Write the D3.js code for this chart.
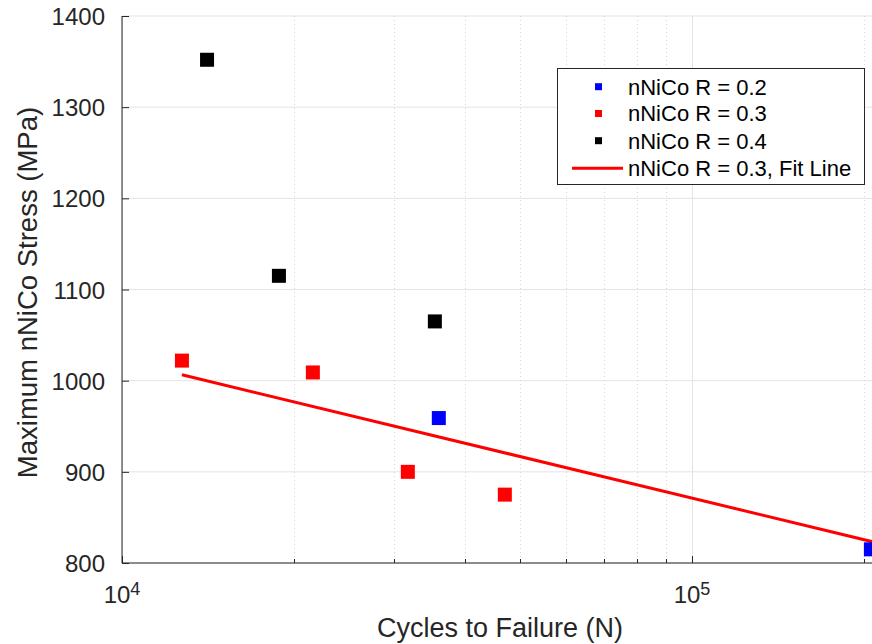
<!DOCTYPE html>
<html><head><meta charset="utf-8">
<script src="https://cdn.jsdelivr.net/npm/d3@7"></script>
<style>body{margin:0;background:#fff;} svg{display:block;font-family:"Liberation Sans",Arial,sans-serif;}</style>
</head><body>
<svg id="c" width="872" height="644"></svg>
<script>
const seriesNames = ["nNiCo R = 0.2", "nNiCo R = 0.3", "nNiCo R = 0.4"];
const seriesColors = ["#0000ff", "#ff0000", "#000000"];
const r02Cycles = [35960, 206000];
const r02Stress = [959, 815];
const r03Cycles = [12740, 21620, 31730, 46950];
const r03Stress = [1022, 1009, 900, 875];
const r04Cycles = [14100, 18850, 35390];
const r04Stress = [1352, 1115, 1065];
const fitName = "nNiCo R = 0.3, Fit Line";
const fitCycles = [12740, 210000];
const fitStress = [1006.4, 822.5];
const yTicks = [800, 900, 1000, 1100, 1200, 1300, 1400];
const xMajor = [1e4, 1e5];
const xMinor = [2e4,3e4,4e4,5e4,6e4,7e4,8e4,9e4,2e5];

const svg = d3.select("#c");
const L = 122, T = 16, B = 563, R = 878;
const x = d3.scaleLog().domain([1e4, 2.12e5]).range([L, R]);
const y = d3.scaleLinear().domain([800, 1400]).range([B, T]);
const axisCol = "#262626";

// grid
const g = svg.append("g");
g.selectAll(".hg").data(yTicks).enter().append("line")
  .attr("x1", L).attr("x2", R).attr("y1", d => y(d)).attr("y2", d => y(d))
  .attr("stroke", "#e3e3e3").attr("stroke-width", 1);
g.selectAll(".vm").data(xMinor).enter().append("line")
  .attr("x1", d => Math.round(x(d)) + 0.5).attr("x2", d => Math.round(x(d)) + 0.5).attr("y1", T).attr("y2", B)
  .attr("stroke", "#d6d6d6").attr("stroke-width", 1).attr("stroke-dasharray", "1,3");
g.selectAll(".vg").data(xMajor).enter().append("line")
  .attr("x1", d => Math.round(x(d)) + 0.5).attr("x2", d => Math.round(x(d)) + 0.5).attr("y1", T).attr("y2", B)
  .attr("stroke", "#e3e3e3").attr("stroke-width", 1);

// axes
const yAxis = d3.axisLeft(y).tickValues(yTicks).tickSize(-7).tickPadding(17).tickFormat(d3.format("d"));
const ya = svg.append("g").attr("transform", `translate(${L},0)`).call(yAxis);
ya.select(".domain").attr("stroke", axisCol).attr("d", `M0,${B}V${T}`);
ya.selectAll(".tick line").attr("stroke", axisCol);
ya.selectAll("text").attr("fill", axisCol).style("font-size", "24px").attr("dy", "0.36em");

const xa = svg.append("g").attr("transform", `translate(0,${B})`);
xa.append("line").attr("x1", L).attr("x2", R).attr("y1", 0).attr("y2", 0).attr("stroke", axisCol);
xa.selectAll(".mt").data(xMinor).enter().append("line")
  .attr("x1", d => Math.round(x(d)) + 0.5).attr("x2", d => Math.round(x(d)) + 0.5).attr("y1", 0).attr("y2", -4)
  .attr("stroke", axisCol);
xa.selectAll(".Mt").data(xMajor).enter().append("line")
  .attr("x1", d => Math.round(x(d)) + 0.5).attr("x2", d => Math.round(x(d)) + 0.5).attr("y1", 0).attr("y2", -7)
  .attr("stroke", axisCol);
const xl = xa.selectAll(".xl").data(xMajor).enter().append("text")
  .attr("x", d => x(d)).attr("y", 40).attr("text-anchor", "middle")
  .attr("fill", axisCol).style("font-size", "24px");
xl.append("tspan").text("10");
xl.append("tspan").attr("dy", "-0.45em").style("font-size", "18px").text(d => Math.round(Math.log10(d)));

// labels
svg.append("text").attr("x", (L + R) / 2).attr("y", 637).attr("text-anchor", "middle")
  .attr("fill", axisCol).style("font-size", "27px").text("Cycles to Failure (N)");
svg.append("text").attr("transform", `translate(37,${(T + B) / 2 + 3}) rotate(-90)`).attr("text-anchor", "middle")
  .attr("fill", axisCol).style("font-size", "27.5px").text("Maximum nNiCo Stress (MPa)");

// data
const plot = svg.append("g");
const line = d3.line().x((d, i) => x(fitCycles[i])).y(d => y(d));
plot.append("path").attr("d", line(fitStress)).attr("fill", "none").attr("stroke", "#ff0000").attr("stroke-width", 3);

const sets = [[r02Cycles, r02Stress], [r03Cycles, r03Stress], [r04Cycles, r04Stress]];
sets.forEach((s, k) => {
  plot.selectAll(".p" + k).data(s[1]).enter().append("rect")
    .attr("x", (d, i) => x(s[0][i]) - 7).attr("y", d => y(d) - 7)
    .attr("width", 14).attr("height", 14).attr("fill", seriesColors[k]);
});

// legend
const lg = svg.append("g");
lg.append("rect").attr("x", 557.5).attr("y", 68.5).attr("width", 307).attr("height", 116)
  .attr("fill", "#fff").attr("stroke", axisCol).attr("stroke-width", 1);
const rows = [86.7, 113.5, 140.7, 168.3];
seriesNames.forEach((n, k) => {
  lg.append("rect").attr("x", 598.5 - 3.5).attr("y", rows[k] - 3.5).attr("width", 7).attr("height", 7).attr("fill", seriesColors[k]);
  lg.append("text").attr("x", 628).attr("y", rows[k]).attr("dy", "0.36em").attr("fill", "#000").style("font-size", "22px").text(n);
});
lg.append("line").attr("x1", 572).attr("x2", 623).attr("y1", rows[3]).attr("y2", rows[3]).attr("stroke", "#ff0000").attr("stroke-width", 3);
lg.append("text").attr("x", 628).attr("y", rows[3]).attr("dy", "0.36em").attr("fill", "#000").style("font-size", "22px").text(fitName);
</script>
</body></html>
